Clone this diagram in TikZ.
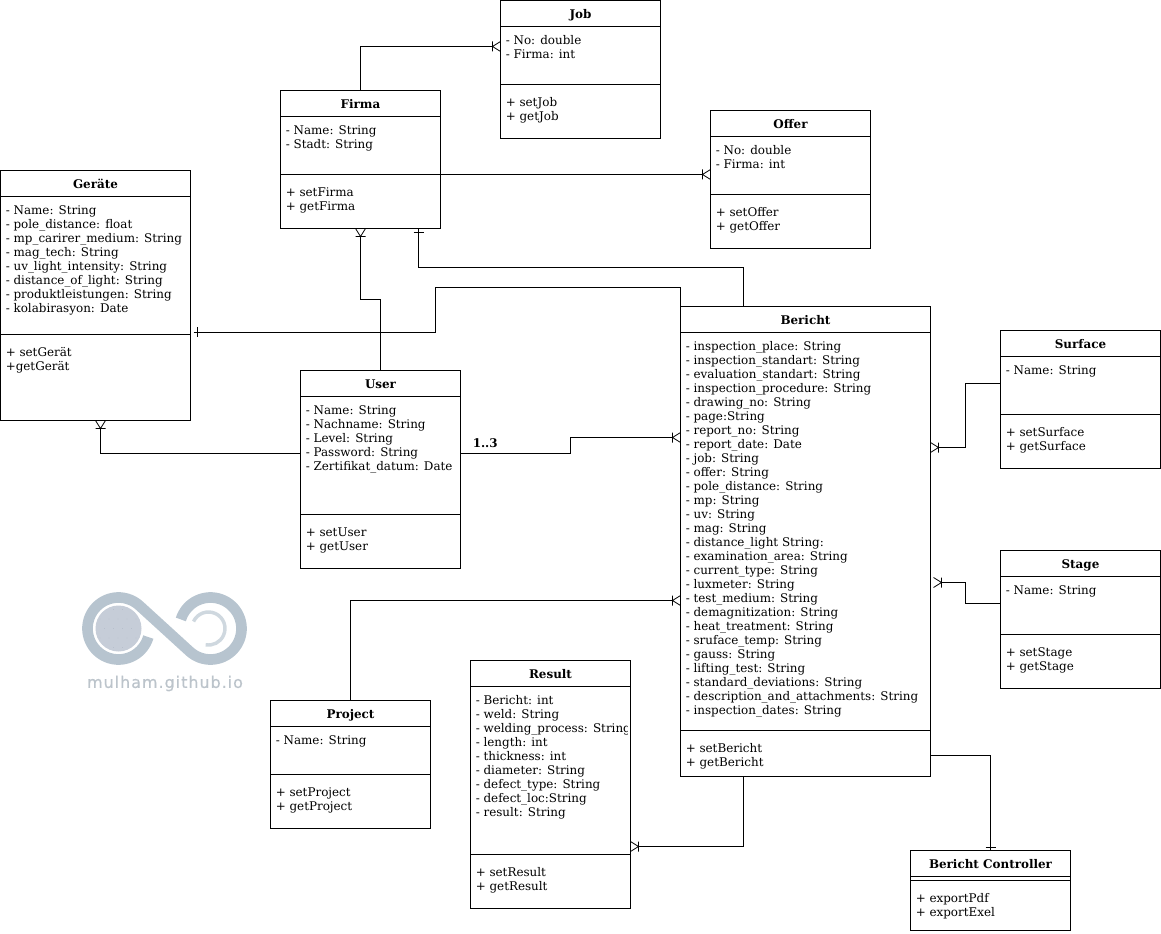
\documentclass[tikz,border=0pt]{standalone}
\usepackage{fontspec}
\setmainfont{DejaVu Serif}
\newfontfamily\logofont[LetterSpace=6,FakeBold=0.6]{DejaVu Sans}
\definecolor{logoring}{HTML}{B7C4CF}
\definecolor{logofill}{HTML}{C6CDD8}
\definecolor{logodot}{HTML}{B0B9C6}
\definecolor{logoarc}{HTML}{CFD8DF}
\definecolor{logotext}{HTML}{BCC4CB}
\tikzset{
  every node/.style={font=\fontsize{8.95}{10.5}\selectfont, text=black},
  classbox/.style={draw=black, line width=.75pt, rectangle, inner sep=0pt, outer sep=0pt, anchor=north west},
  classtitle/.style={font=\fontsize{8.95}{10.5}\selectfont\bfseries, text=black, inner sep=0pt},
  classtext/.style={anchor=north west, inner sep=0pt, align=left},
  sepline/.style={line width=.75pt},
  conn/.style={line width=.75pt},
  crowconn/.style={conn, shorten >=6pt},
  crowfoot/.pic={\draw[line width=.6pt] (-8,-5) -- (-8,5) (0,-5) -- (-8,0) -- (0,5);},
  onebar/.pic={\draw[line width=.6pt] (0,-5) -- (0,5);}
}
% name, x, y, w, h, lower separator (relative), title, attributes, methods
\newcommand{\umlclass}[9]{%
  \node[classbox, minimum width=#4*.75pt, minimum height=#5*.75pt] (#1) at (#2,#3) {};
  \node[classtitle, anchor=base] (#1-title) at (#2+#4/2,#3+18) {#7};
  \draw[sepline] (#1.west |- 0,#3+26) -- (#1.east |- 0,#3+26);
  \draw[sepline] (#1.west |- 0,#3+#6) -- (#1.east |- 0,#3+#6);
  \begin{scope}
    \clip (#2,#3) rectangle (#2+#4-3,#3+#5);
    \node[classtext] (#1-attrs) at (#2+5,#3+35) {#8};
    \node[classtext] (#1-methods) at (#2+5,#3+#6+13) {#9};
  \end{scope}
}
\begin{document}
\begin{tikzpicture}[x=.75pt,y=-.75pt]
\useasboundingbox (-0.5,-0.5) rectangle (1160.5,933.5);

% watermark
\draw[logoring, line width=8pt]
  (118,628) ++(16:31) arc[start angle=16, end angle=312.4, radius=31]
  -- (189.1,650.9) arc[start angle=132.4, end angle=-163, radius=31];
\fill[logofill] (118,628) circle[radius=23];
\begin{scope}
  \clip (118,628) circle[radius=21];
  \foreach \row in {0,...,4} \foreach \col in {0,...,5}
    \fill[logodot] ({95+\col*9+mod(\row,2)*4.5},{609+\row*9.5}) circle[radius=.45];
\end{scope}
\draw[logoarc, line width=2.6pt] (208,628) ++(-155:16.5) arc[start angle=-155, end angle=100, radius=16.5];
\node[font=\logofont\fontsize{12}{14}\selectfont, text=logotext, inner sep=0pt] (logotext) at (164.5,683) {mulham.github.io};

\umlclass{job}{500}{0}{160}{138}{84}{Job}{- No: double\\- Firma: int}{+ setJob\\+ getJob}
\umlclass{firma}{280}{90}{160}{138}{84}{Firma}{- Name: String\\- Stadt: String}{+ setFirma\\+ getFirma}
\umlclass{offer}{710}{110}{160}{138}{84}{Offer}{- No: double\\- Firma: int}{+ setOffer\\+ getOffer}
\umlclass{geraete}{0}{170}{190}{250}{164}{Geräte}{- Name: String\\- pole\_distance: float\\- mp\_carirer\_medium: String\\- mag\_tech: String\\- uv\_light\_intensity: String\\- distance\_of\_light: String\\- produktleistungen: String\\- kolabirasyon: Date}{+ setGerät\\+getGerät}
\umlclass{user}{300}{370}{160}{198}{144}{User}{- Name: String\\- Nachname: String\\- Level: String\\- Password: String\\- Zertifikat\_datum: Date}{+ setUser\\+ getUser}
\umlclass{bericht}{680}{306}{250}{470}{424}{Bericht}{- inspection\_place: String\\- inspection\_standart: String\\- evaluation\_standart: String\\- inspection\_procedure: String\\- drawing\_no: String\\- page:String\\- report\_no: String\\- report\_date: Date\\- job: String\\- offer: String\\- pole\_distance: String\\- mp: String\\- uv: String\\- mag: String\\- distance\_light String:\\- examination\_area: String\\- current\_type: String\\- luxmeter: String\\- test\_medium: String\\- demagnitization: String\\- heat\_treatment: String\\- sruface\_temp: String\\- gauss: String\\- lifting\_test: String\\- standard\_deviations: String\\- description\_and\_attachments: String\\- inspection\_dates: String}{+ setBericht\\+ getBericht}
\umlclass{surface}{1000}{330}{160}{138}{84}{Surface}{- Name: String}{+ setSurface\\+ getSurface}
\umlclass{stage}{1000}{550}{160}{138}{84}{Stage}{- Name: String}{+ setStage\\+ getStage}
\umlclass{project}{270}{700}{160}{128}{74}{Project}{- Name: String}{+ setProject\\+ getProject}
\umlclass{result}{470}{660}{160}{248}{194}{Result}{- Bericht: int\\- weld: String\\- welding\_process: String\\- length: int\\- thickness: int\\- diameter: String\\- defect\_type: String\\- defect\_loc:String\\- result: String}{+ setResult\\+ getResult}
\umlclass{controller}{910}{850}{160}{80}{30}{Bericht Controller}{}{+ exportPdf\\+ exportExel}

\coordinate (gstart) at (193,332);
\coordinate (stageend) at (941,582);

% connectors
\draw[crowconn] (firma.north) |- (job.west |- 0,46);
\pic at (job.west |- 0,46) {crowfoot};
\draw[crowconn] (firma.east |- 0,174) -- (offer.west |- 0,174);
\pic at (offer.west |- 0,174) {crowfoot};
\draw[conn] (bericht.north -| 743,0) |- (418,267) -- (firma.south -| 418,0);
\pic[rotate=90] at (418,232) {onebar};
\draw[conn] (gstart) -| (435,287) -- (680,287) -- (bericht.north west);
\pic at (197,332) {onebar};
\draw[crowconn] (user.north) |- (360,299) -- (firma.south -| 360,0);
\pic[rotate=90] at (firma.south -| 360,0) {crowfoot};
\draw[crowconn] (user.west |- 0,453) -| (geraete.south -| 100,0);
\pic[rotate=90] at (geraete.south -| 100,0) {crowfoot};
\draw[crowconn] (user.east |- 0,453) -| (570,437) -- (bericht.west |- 0,437);
\pic at (bericht.west |- 0,437) {crowfoot};
\draw[crowconn] (project.north) |- (bericht.west |- 0,600);
\pic at (bericht.west |- 0,600) {crowfoot};
\draw[crowconn] (bericht.south -| 743,0) |- (result.east |- 0,846);
\pic[rotate=180] at (result.east |- 0,846) {crowfoot};
\draw[crowconn] (surface.west |- 0,383) -| (965,447) -- (bericht.east |- 0,447);
\pic[rotate=180] at (bericht.east |- 0,447) {crowfoot};
\draw[conn] (stage.west |- 0,603) -| (965,582) -- (stageend);
\pic[rotate=180] at (933,582) {crowfoot};
\draw[conn] (bericht.east |- 0,755) -| (controller.north);
\pic[rotate=90] at (990,847) {onebar};

\node[classtitle, anchor=west] (multiplicity) at (472,443) {1..3};
\end{tikzpicture}
\end{document}
